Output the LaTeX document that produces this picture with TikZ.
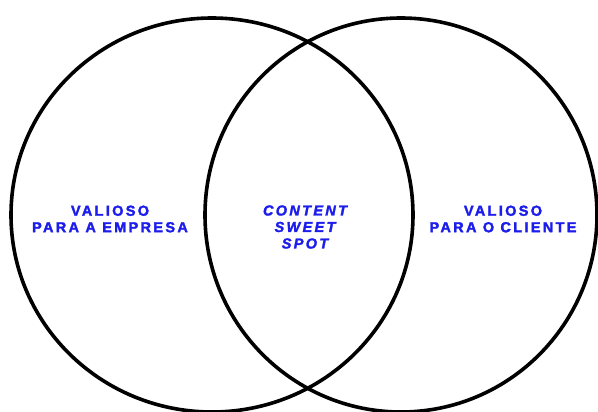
\documentclass[tikz,border=0pt]{standalone}
\usepackage{fontspec}
\usetikzlibrary{shapes.geometric}
\newfontfamily\vfont[LetterSpace=16,FakeBold=2]{Liberation Sans}
\definecolor{lblblue}{RGB}{28,28,235}
\begin{document}
\begin{tikzpicture}[x=1pt,y=-1pt,
  ring/.style={draw=black,line width=3.6pt,ellipse,inner sep=0pt},
  lbl/.style={text=lblblue,align=center,font=\vfont\bfseries\fontsize{14.5}{16.5}\selectfont}]
\useasboundingbox (0,0) rectangle (598,412);
\fill[white] (0,0) rectangle (598,412);
\node[ring,minimum width=402pt,minimum height=394pt] (L) at (212,215) {};
\node[ring,minimum width=392pt,minimum height=394pt] (R) at (401,215) {};
\node[lbl] (tl) at (110,219) {VALIOSO\\PARA A EMPRESA};
\node[lbl] (tr) at (503,219) {VALIOSO\\PARA O CLIENTE};
\node[lbl,font=\vfont\bfseries\itshape\fontsize{14.5}{16.5}\selectfont] (tc) at (305,227) {CONTENT\\SWEET\\SPOT};
\end{tikzpicture}
\end{document}
